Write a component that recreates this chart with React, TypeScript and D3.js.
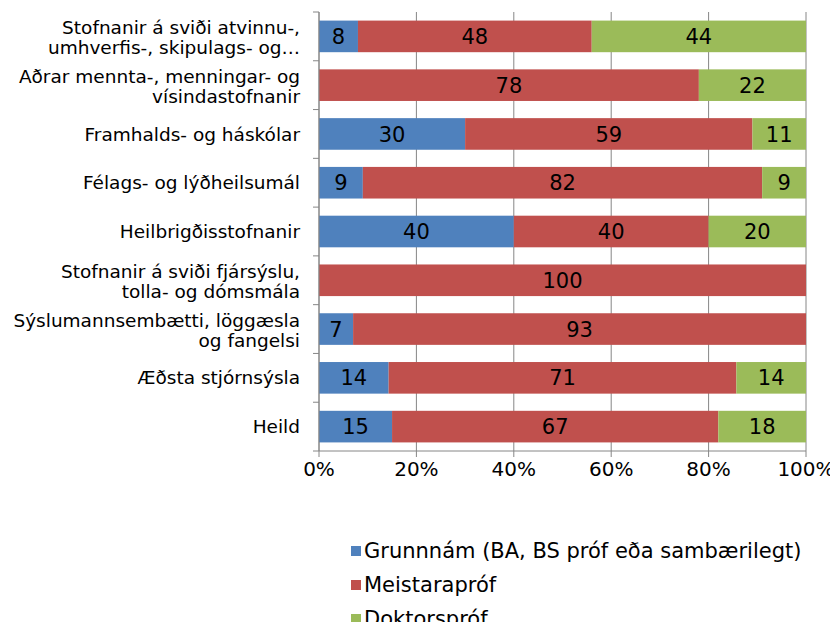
import React from 'react';
import * as d3 from 'd3';

// categories, top to bottom (each entry split into display lines)
const categories: string[][] = [
  ['Stofnanir á sviði atvinnu-,', 'umhverfis-, skipulags- og…'],
  ['Aðrar mennta-, menningar- og', 'vísindastofnanir'],
  ['Framhalds- og háskólar'],
  ['Félags- og lýðheilsumál'],
  ['Heilbrigðisstofnanir'],
  ['Stofnanir á sviði fjársýslu,', 'tolla- og dómsmála'],
  ['Sýslumannsembætti, löggæsla', 'og fangelsi'],
  ['Æðsta stjórnsýsla'],
  ['Heild'],
];

// percentages (labels are shown rounded)
const grunnnam = [8, 0, 30, 9, 40, 0, 7, 14.3, 15];
const meistara = [48, 78, 59, 82, 40, 100, 93, 71.4, 67];
const doktor = [44, 22, 11, 9, 20, 0, 0, 14.3, 18];

const seriesNames = ['Grunnnám (BA, BS próf eða sambærilegt)', 'Meistarapróf', 'Doktorspróf'];
const seriesColors = ['#4F81BD', '#C0504D', '#9BBB59'];
const xTicks = [0, 20, 40, 60, 80, 100];

const W = 838;
const H = 630;
const left = 319;
const right = 806;
const top = 12;
const bottom = 451;
const font = 'Verdana, "DejaVu Sans", sans-serif';

export default function App() {
  const x = d3.scaleLinear().domain([0, 100]).range([left, right]);
  const y = d3
    .scaleBand<number>()
    .domain(d3.range(categories.length))
    .range([top, bottom])
    .paddingInner(0.352)
    .paddingOuter(0.176);

  const rows = categories.map((_, i) => ({ a: grunnnam[i], b: meistara[i], c: doktor[i] }));
  const stacked = d3.stack<any>().keys(['a', 'b', 'c'])(rows);

  const step = (bottom - top) / categories.length;

  return (
    <svg width={W} height={H} style={{ display: 'block', margin: '-8px' }}>
      <rect width={W} height={H} fill="#fff" />
      {xTicks.map((t) => (
        <g key={t}>
          <line x1={x(t)} x2={x(t)} y1={top} y2={bottom + 6} stroke="#868686" strokeWidth={1} />
          <text x={x(t)} y={bottom + 25} fontSize={20} textAnchor="middle" fontFamily={font} fill="#000">
            {t}%
          </text>
        </g>
      ))}
      {stacked.map((s, si) =>
        s.map((d, i) => {
          const v = d[1] - d[0];
          if (v <= 0) return null;
          const yy = y(i)!;
          return (
            <g key={`${si}-${i}`}>
              <rect x={x(d[0])} y={yy} width={x(d[1]) - x(d[0])} height={y.bandwidth()} fill={seriesColors[si]} />
              <text
                x={(x(d[0]) + x(d[1])) / 2}
                y={yy + y.bandwidth() / 2}
                dy="0.36em"
                fontSize={21}
                textAnchor="middle"
                fontFamily={font}
                fill="#000"
              >
                {Math.round(v)}
              </text>
            </g>
          );
        })
      )}
      <line x1={left} x2={left} y1={top} y2={bottom} stroke="#868686" strokeWidth={1} />
      <line x1={left} x2={right} y1={bottom} y2={bottom} stroke="#868686" strokeWidth={1} />
      {d3.range(categories.length + 1).map((i) => (
        <line key={i} x1={left - 6} x2={left} y1={top + i * step} y2={top + i * step} stroke="#868686" />
      ))}
      {categories.map((lines, i) => {
        const cy = y(i)! + y.bandwidth() / 2;
        const lh = 20;
        const y0 = lines.length > 1 ? cy - 8.7 : cy;
        return (
          <text key={i} textAnchor="end" fontSize={18.5} fontFamily={font} fill="#000">
            {lines.map((ln, k) => (
              <tspan key={k} x={300} y={y0 + k * lh} dy="0.36em">
                {ln}
              </tspan>
            ))}
          </text>
        );
      })}
      {seriesNames.map((n, i) => {
        const ly = 550 + i * 34;
        return (
          <g key={n}>
            <rect x={351} y={ly - 4} width={10} height={10} fill={seriesColors[i]} />
            <text x={364} y={ly} dy="0.36em" fontSize={21} fontFamily={font} fill="#000">
              {n}
            </text>
          </g>
        );
      })}
    </svg>
  );
}
